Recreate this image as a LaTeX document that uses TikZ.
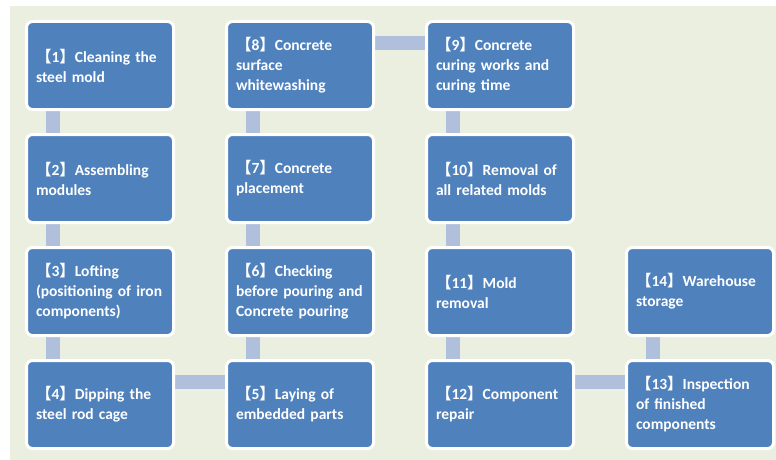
\documentclass[tikz,border=0pt]{standalone}
\usepackage{fontspec}
\setmainfont{Carlito}
\newfontfamily\cjk{Noto Sans CJK SC}
\definecolor{BoxBlue}{HTML}{4F81BD}
\definecolor{LinkBlue}{HTML}{B0BFDC}
\definecolor{PageGreen}{HTML}{EBEFDF}
\usetikzlibrary{positioning,backgrounds}
\newcommand{\stepno}[1]{{\cjk 【}#1{\cjk 】}}

\begin{document}
\begin{tikzpicture}[
  x=1pt,y=1pt,
  node distance=22pt and 50pt,
  stepbox/.style={draw=white,line width=3pt,fill=BoxBlue,rounded corners=6pt,
              minimum width=147pt,minimum height=88pt,text width=128pt,inner sep=0pt,
              align=left,text=white,font=\bfseries\fontsize{15.5}{20}\selectfont},
  link/.style={draw=LinkBlue,line width=14pt}]
\useasboundingbox (0,0) rectangle (776,-460);
% first column, top to bottom
\node[stepbox] at (100,-65.5) (b1) {\stepno{1}Cleaning the\\steel mold};
\node[stepbox, below=of b1] (b2) {\stepno{2}Assembling\\modules};
\node[stepbox, below=of b2] (b3) {\stepno{3}Lofting\\(positioning of iron\\components)};
\node[stepbox, below=of b3] (b4) {\stepno{4}Dipping the\\steel rod cage};
% second column, bottom to top
\node[stepbox, right=of b4] (b5) {\stepno{5}Laying of\\embedded parts};
\node[stepbox, above=of b5] (b6) {\stepno{6}Checking\\before pouring and\\Concrete pouring};
\node[stepbox, above=of b6] (b7) {\stepno{7}Concrete\\placement};
\node[stepbox, above=of b7] (b8) {\stepno{8}Concrete\\surface\\whitewashing};
% third column
\node[stepbox, right=of b8] (b9) {\stepno{9}Concrete\\curing works and\\curing time};
\node[stepbox, below=of b9] (b10) {\stepno{10}Removal of\\all related molds};
\node[stepbox, below=of b10] (b11) {\stepno{11}Mold\\removal};
\node[stepbox, below=of b11] (b12) {\stepno{12}Component\\repair};
% last column
\node[stepbox, right=of b12] (b13) {\stepno{13}Inspection\\of finished\\components};
\node[stepbox, above=of b13] (b14) {\stepno{14}Warehouse\\storage};
\begin{scope}[on background layer]
\fill[PageGreen] (10,-6) rectangle (776,-460);
\foreach \a/\b in {b1/b2,b2/b3,b3/b4,b9/b10,b10/b11,b11/b12}
  \draw[link] ([xshift=28pt]\a.south west) -- ([xshift=28pt]\b.north west);
\foreach \a/\b in {b5/b6,b6/b7,b7/b8,b13/b14}
  \draw[link] ([xshift=28pt]\a.north west) -- ([xshift=28pt]\b.south west);
\foreach \a/\b in {b4/b5,b8/b9,b12/b13}
  \draw[link] ([yshift=-23pt]\a.north east) -- ([yshift=-23pt]\b.north west);
\end{scope}
\end{tikzpicture}
\end{document}
